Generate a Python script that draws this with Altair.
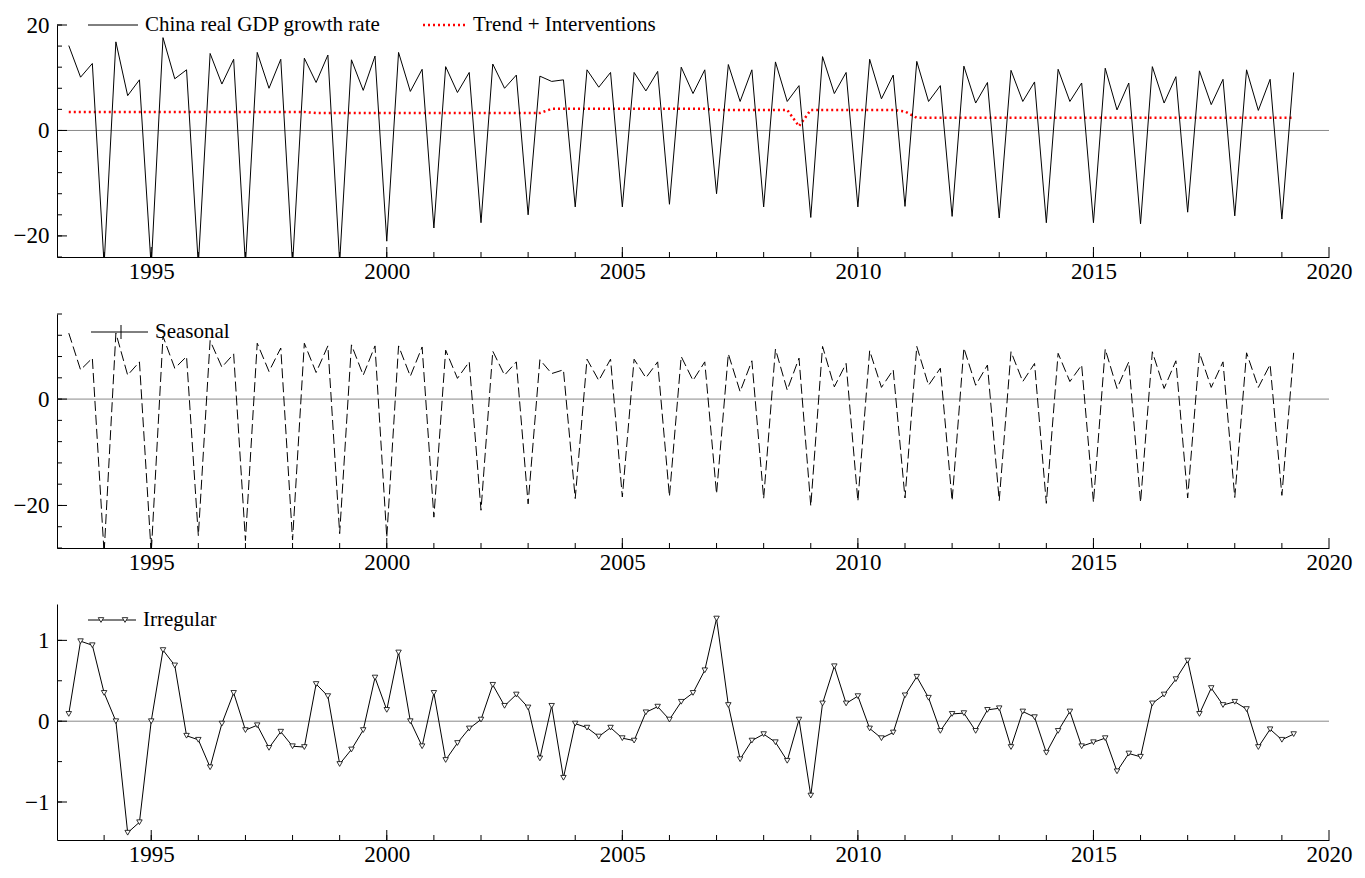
import altair as alt
import pandas as pd

# quarterly series, 1993Q2 .. 2019Q2 (Q1 of 1993 missing)
start_year, start_q = 1993, 2

gdp = [
    16.1, 10.1, 12.7,
    -25.5, 16.8, 6.6, 9.6,
    -26.0, 17.6, 9.8, 11.5,
    -25.5, 14.6, 8.8, 13.5,
    -25.5, 14.8, 8.0, 13.5,
    -25.5, 13.7, 9.1, 14.3,
    -25.0, 13.4, 7.6, 14.1,
    -21.0, 14.8, 7.4, 11.6,
    -18.5, 12.1, 7.2, 11.0,
    -17.5, 12.6, 8.0, 10.5,
    -16.0, 10.3, 9.3, 9.6,
    -14.5, 11.5, 8.2, 11.0,
    -14.5, 11.0, 7.5, 11.2,
    -14.0, 12.0, 7.0, 11.5,
    -12.0, 12.5, 5.5, 11.5,
    -14.5, 13.0, 5.5, 8.5,
    -16.5, 14.0, 7.0, 11.0,
    -14.5, 13.5, 6.0, 10.5,
    -14.4, 13.1, 5.5, 8.5,
    -16.3, 12.2, 5.2, 9.1,
    -16.6, 11.4, 5.5, 9.2,
    -17.5, 11.6, 5.5, 9.0,
    -17.5, 11.8, 3.9, 9.0,
    -17.7, 12.1, 5.2, 10.2,
    -15.5, 11.3, 4.9, 9.7,
    -16.2, 11.5, 3.8, 9.7,
    -16.8, 11.0,
]

trend = (
    [3.5] * 21      # 1993Q2 - 1998Q2
    + [3.3] * 20    # 1998Q3 - 2003Q2
    + [4.1] * 14    # 2003Q3 - 2006Q4
    + [3.9] * 7     # 2007Q1 - 2008Q3
    + [0.8]         # 2008Q4
    + [3.9] * 8     # 2009Q1 - 2010Q4
    + [3.6]         # 2011Q1
    + [2.4] * 33    # 2011Q2 - 2019Q2
)

seasonal = [
    12.4, 5.5, 7.7,
    -29.0, 12.4, 4.5, 7.0,
    -29.0, 11.8, 5.8, 8.0,
    -25.7, 11.0, 6.0, 8.5,
    -26.6, 10.5, 5.2, 9.6,
    -26.5, 10.5, 5.0, 10.0,
    -25.3, 10.2, 4.5, 10.0,
    -26.0, 10.0, 4.3, 9.8,
    -22.2, 9.2, 3.9, 7.0,
    -20.9, 9.0, 4.5, 7.0,
    -19.7, 7.4, 4.8, 5.5,
    -18.7, 7.5, 3.5, 7.5,
    -18.4, 7.5, 4.0, 7.0,
    -18.3, 8.0, 3.5, 7.0,
    -17.8, 8.5, 1.4, 7.2,
    -18.7, 9.4, 1.7, 7.7,
    -20.1, 9.9, 2.3, 6.7,
    -19.2, 9.1, 2.2, 5.5,
    -18.6, 9.9, 2.6, 5.8,
    -19.1, 9.6, 2.6, 6.4,
    -19.1, 8.9, 3.3, 6.7,
    -19.6, 8.6, 3.3, 6.4,
    -19.4, 9.4, 2.0, 7.0,
    -19.4, 8.9, 2.0, 7.2,
    -18.6, 8.7, 2.2, 7.0,
    -18.5, 8.7, 2.2, 6.5,
    -18.1, 8.7,
]

irregular = [
    0.09, 0.99, 0.94,
    0.35, 0.00, -1.38, -1.25,
    0.00, 0.88, 0.69, -0.18,
    -0.23, -0.57, -0.03, 0.35,
    -0.11, -0.05, -0.33, -0.13,
    -0.31, -0.32, 0.46, 0.31,
    -0.53, -0.35, -0.11, 0.54,
    0.14, 0.85, 0.00, -0.31,
    0.35, -0.48, -0.27, -0.09,
    0.02, 0.45, 0.19, 0.33,
    0.17, -0.46, 0.19, -0.70,
    -0.03, -0.08, -0.19, -0.08,
    -0.21, -0.24, 0.11, 0.18,
    0.02, 0.24, 0.35, 0.63,
    1.27, 0.20, -0.47, -0.24,
    -0.16, -0.26, -0.49, 0.02,
    -0.92, 0.22, 0.68, 0.22,
    0.31, -0.09, -0.21, -0.14,
    0.32, 0.55, 0.29, -0.12,
    0.09, 0.10, -0.12, 0.14,
    0.16, -0.32, 0.12, 0.05,
    -0.39, -0.12, 0.12, -0.31,
    -0.26, -0.21, -0.62, -0.40,
    -0.44, 0.22, 0.33, 0.52,
    0.75, 0.09, 0.41, 0.20,
    0.24, 0.15, -0.32, -0.10,
    -0.23, -0.16,
]

year_labels = [1995, 2000, 2005, 2010, 2015, 2020]
all_years = list(range(1994, 2020))

FONT = "Liberation Serif"
W = 1272

n = len(gdp)
t = [start_year + (start_q - 1 + i) / 4 for i in range(n)]
df = pd.DataFrame({"t": t, "gdp": gdp, "trend": trend,
                   "seasonal": seasonal, "irregular": irregular})
one = pd.DataFrame({"k": [0]})  # single row for legend marks
years_df = pd.DataFrame({"year": all_years})
xscale = alt.Scale(domain=[1993, 2020], nice=False, zero=False)


def panel(h, ydom, ylabels, yminor, layers):
    x_axis = alt.X("t:Q", scale=xscale, title=None,
                   axis=alt.Axis(values=year_labels, ticks=False, grid=False, format="d",
                                 domainColor="black", labelFont=FONT,
                                 labelFontSize=23, labelColor="black",
                                 labelPadding=3, labelFlush=False))
    y_axis = alt.Y("v:Q", scale=alt.Scale(domain=ydom, nice=False, zero=False), title=None,
                   axis=alt.Axis(values=ylabels, ticks=False, grid=False, format="d",
                                 domainColor="black", labelFont=FONT,
                                 labelFontSize=23, labelColor="black", labelPadding=8))
    frame = alt.Chart(df).transform_calculate(v=str(ydom[0])).mark_point(opacity=0).encode(
        x=x_axis, y=y_axis)
    zero = alt.Chart(one).mark_rule(color="#888888", strokeWidth=1).encode(y=alt.datum(0))
    xt_minor = alt.Chart(years_df).mark_rule(color="black").encode(
        x="year:Q", y=alt.value(h), y2=alt.value(h - 5))
    xt_major = alt.Chart(pd.DataFrame({"year": year_labels})).mark_rule(color="black").encode(
        x="year:Q", y=alt.value(h), y2=alt.value(h - 10))
    yt_minor = alt.Chart(pd.DataFrame({"v": yminor})).mark_rule(color="black").encode(
        y="v:Q", x=alt.value(0), x2=alt.value(5))
    yt_major = alt.Chart(pd.DataFrame({"v": ylabels})).mark_rule(color="black").encode(
        y="v:Q", x=alt.value(0), x2=alt.value(10))
    return alt.layer(frame, zero, xt_minor, xt_major, yt_minor, yt_major, *layers).properties(
        width=W, height=h)


def legend_text(txt, x, y):
    return alt.Chart(one).mark_text(text=txt, font=FONT, fontSize=21, align="left",
                                    baseline="middle", color="black").encode(
        x=alt.value(x), y=alt.value(y))


# top panel
gdp_line = alt.Chart(df).mark_line(color="black", strokeWidth=1, clip=True).encode(
    x="t:Q", y=alt.Y("gdp:Q"))
trend_line = alt.Chart(df).mark_line(color="#ff0000", strokeWidth=2.5, strokeDash=[2, 3], clip=True).encode(
    x="t:Q", y=alt.Y("trend:Q"))
leg1 = alt.Chart(one).mark_rule(color="black").encode(x=alt.value(31), x2=alt.value(81), y=alt.value(0))
leg2 = alt.Chart(one).mark_rule(color="#ff0000", strokeWidth=2.5, strokeDash=[2, 3]).encode(
    x=alt.value(366), x2=alt.value(408), y=alt.value(0))
top = panel(232, [-24, 20], [-20, 0, 20], list(range(-24, 21, 4)),
            [trend_line, gdp_line, leg1, legend_text("China real GDP growth rate", 88, 0),
             leg2, legend_text("Trend + Interventions", 416, 0)])

# seasonal panel
s_line = alt.Chart(df).mark_line(color="black", strokeWidth=1, strokeDash=[10, 4], clip=True).encode(
    x="t:Q", y=alt.Y("seasonal:Q"))
leg3 = alt.Chart(one).mark_rule(color="black").encode(x=alt.value(34), x2=alt.value(91), y=alt.value(18))
leg3b = alt.Chart(one).mark_rule(color="black").encode(x=alt.value(64), y=alt.value(11), y2=alt.value(25))
mid = panel(234, [-28, 16], [-20, 0], list(range(-28, 17, 4)),
            [s_line, leg3, leg3b, legend_text("Seasonal", 98, 18)])

# irregular panel
i_line = alt.Chart(df).mark_line(color="black", strokeWidth=1, clip=True).encode(
    x="t:Q", y=alt.Y("irregular:Q"))
i_pts = alt.Chart(df).mark_point(shape="triangle-down", filled=True, fill="white",
                                 stroke="black", strokeWidth=0.8, size=30, opacity=1,
                                 clip=True).encode(x="t:Q", y=alt.Y("irregular:Q"))
leg4 = alt.Chart(one).mark_rule(color="black").encode(x=alt.value(31), x2=alt.value(79), y=alt.value(16))
leg4p = alt.Chart(pd.DataFrame({"px": [44, 68]})).mark_point(
    shape="triangle-down", filled=True, fill="white", stroke="black", strokeWidth=0.8,
    size=30, opacity=1).encode(x=alt.X("px:Q", scale=None), y=alt.value(16))
bot = panel(236, [-1.47, 1.45], [-1, 0, 1], [-1.0, -0.5, 0.0, 0.5, 1.0],
            [i_line, i_pts, leg4, leg4p, legend_text("Irregular", 86, 16)])

chart = alt.vconcat(top, mid, bot, spacing=30).properties(
    padding={"left": 5, "top": 6, "right": 5, "bottom": 5},
    background="white",
).configure_view(strokeWidth=0)

chart.save("out.html", embed_options={"renderer": "svg", "actions": False})
